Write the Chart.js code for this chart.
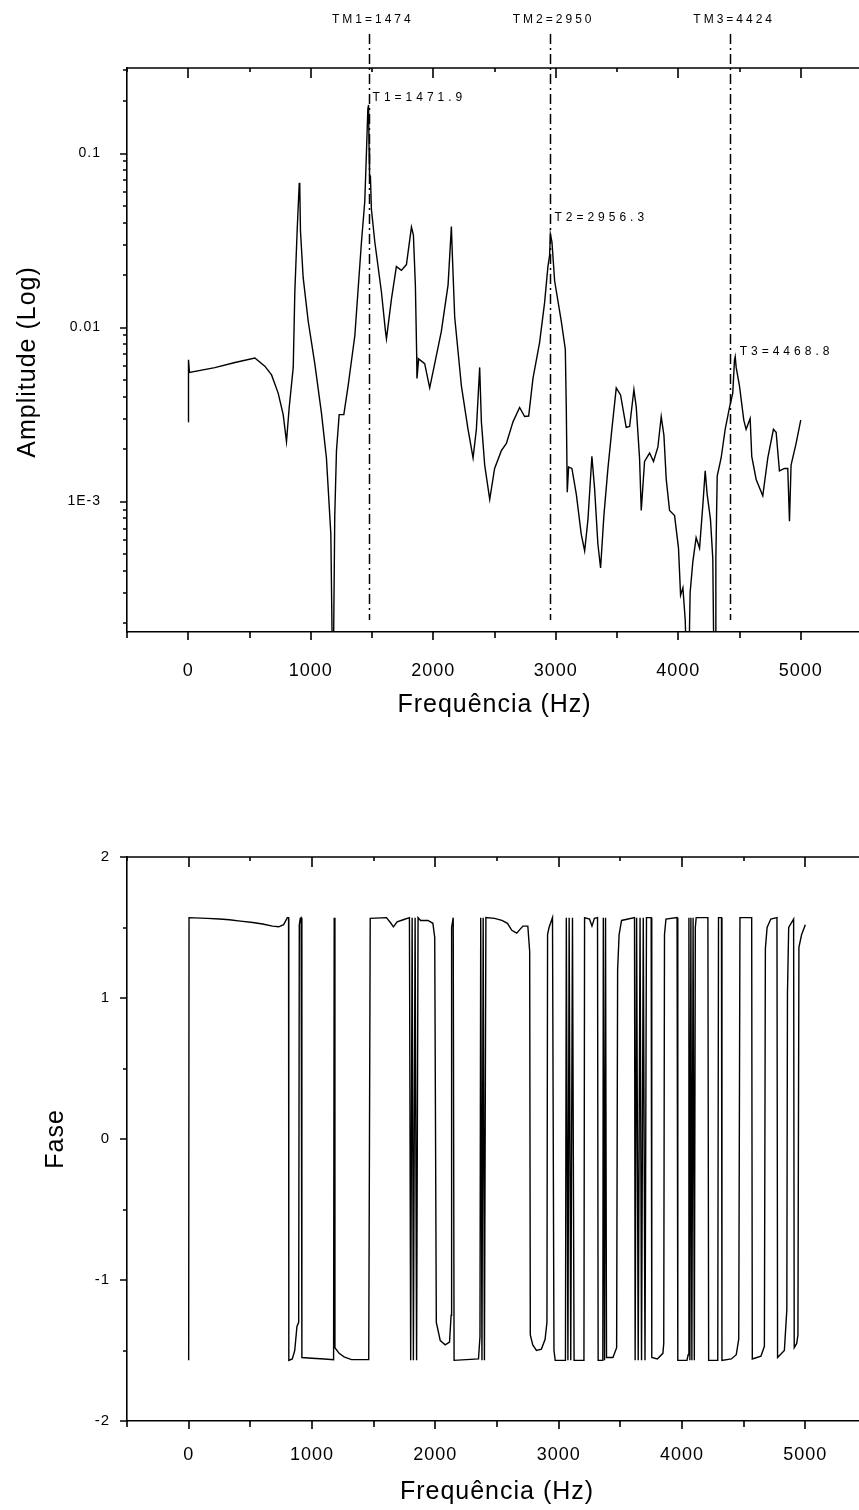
<!DOCTYPE html>
<html>
<head>
<meta charset="utf-8">
<script src="https://cdn.jsdelivr.net/npm/chart.js@4.4.1/dist/chart.umd.min.js"></script>
<style>
  html, body { margin: 0; padding: 0; background: #fff; overflow: hidden; width: 859px; height: 1510px; }
  #amp { position: absolute; left: 0; top: 0; }
  #fase { position: absolute; left: 0; top: 740px; }
</style>
</head>
<body>
<canvas id="amp" width="890" height="740"></canvas>
<canvas id="fase" width="890" height="770"></canvas>
<script>
// amplitude spectrum (Hz / amplitude)
var ampFreq = [0, 2, 10, 217, 381, 544, 625, 680, 734, 775, 802, 824, 857, 870, 889, 906, 910, 916, 938, 979,
  1033, 1088, 1128, 1164, 1178, 1184, 1196, 1210, 1232, 1270, 1305, 1360, 1414, 1441, 1455, 1466, 1472, 1476, 1480, 1487,
  1495, 1523, 1577, 1610, 1618, 1659, 1699, 1740, 1781, 1822, 1838, 1854, 1865, 1867, 1881, 1930, 1971, 2012, 2066, 2121,
  2148, 2156, 2175, 2230, 2284, 2325, 2352, 2379, 2393, 2420, 2461, 2501, 2556, 2597, 2651, 2705, 2746, 2779, 2814, 2868,
  2909, 2936, 2950, 2956, 2969, 2991, 3045, 3078, 3086, 3094, 3105, 3132, 3168, 3208, 3236, 3263, 3295, 3317, 3344, 3366,
  3393, 3426, 3458, 3494, 3529, 3575, 3603, 3638, 3657, 3684, 3698, 3725, 3766, 3798, 3834, 3861, 3883, 3902, 3929, 3970,
  4002, 4019, 4038, 4057, 4070, 4085, 4097, 4119, 4146, 4174, 4201, 4220, 4236, 4263, 4282, 4292, 4300, 4307, 4318, 4350,
  4383, 4418, 4445, 4459, 4465, 4473, 4500, 4535, 4554, 4587, 4600, 4636, 4690, 4731, 4777, 4799, 4826, 4867, 4894, 4908,
  4921, 4962, 5000];
var ampVal = [0.00287, 0.00653, 0.00552, 0.00588, 0.0063, 0.00668, 0.0060, 0.00534, 0.0042, 0.00316, 0.00221, 0.00347, 0.0059, 0.016, 0.036, 0.067, 0.068, 0.036, 0.0194, 0.0109,
  0.0062, 0.0032, 0.00178, 0.00065, 0.0001, 0.0001, 0.00083, 0.00196, 0.00316, 0.00316, 0.00462, 0.009, 0.031, 0.053, 0.103, 0.18, 0.19, 0.108, 0.075, 0.074,
  0.048, 0.031, 0.016, 0.0095, 0.0086, 0.0146, 0.0224, 0.0213, 0.023, 0.0378, 0.034, 0.0176, 0.0068, 0.0051, 0.0066, 0.0062, 0.0045, 0.0062, 0.0095, 0.0176,
  0.038, 0.026, 0.0115, 0.0046, 0.0026, 0.00178, 0.0026, 0.0059, 0.00287, 0.00162, 0.00103, 0.00155, 0.00196, 0.00216, 0.00287, 0.00347, 0.00308, 0.0031, 0.0051, 0.0082,
  0.0139, 0.0224, 0.026, 0.0344, 0.031, 0.0185, 0.0109, 0.0075, 0.00347, 0.00113, 0.00158, 0.00155, 0.0011, 0.00065, 0.00052, 0.00079, 0.00182, 0.00119, 0.00057, 0.000415,
  0.00083, 0.00155, 0.0026, 0.0045, 0.0041, 0.00267, 0.0027, 0.0044, 0.0035, 0.00178, 0.00089, 0.0017, 0.0019, 0.0017, 0.00206, 0.00308, 0.0024, 0.00134, 0.00089, 0.00083,
  0.00054, 0.00029, 0.00032, 0.000208, 0.0001, 0.0001, 0.0003, 0.00045, 0.00062, 0.00054, 0.00096, 0.0015, 0.0011, 0.00079, 0.00047, 0.0001, 0.0001, 0.00047, 0.0014, 0.00178,
  0.0026, 0.00347, 0.0042, 0.0065, 0.0068, 0.0059, 0.0046, 0.00294, 0.0026, 0.003, 0.00182, 0.00134, 0.00108, 0.00178, 0.0026, 0.0025, 0.0015, 0.00155, 0.00155, 0.00077,
  0.00162, 0.00216, 0.00294];

// phase (Hz / rad)
var phaseFreq = [0, 3, 150, 250, 330, 420, 520, 600, 680, 730, 770, 800, 810, 812, 840, 860, 878, 892, 897, 905,
  912, 918, 1000, 1100, 1175, 1180, 1186, 1220, 1260, 1320, 1460, 1472, 1604, 1640, 1660, 1690, 1740, 1790, 1800, 1812,
  1822, 1836, 1848, 1860, 1880, 1940, 1980, 1995, 2008, 2040, 2080, 2115, 2128, 2132, 2145, 2152, 2350, 2362, 2368, 2378,
  2388, 2398, 2410, 2480, 2540, 2585, 2620, 2660, 2690, 2710, 2750, 2765, 2770, 2790, 2820, 2860, 2890, 2905, 2910, 2922,
  2950, 2962, 2972, 3055, 3062, 3075, 3085, 3098, 3112, 3125, 3205, 3210, 3250, 3270, 3290, 3315, 3320, 3358, 3362, 3372,
  3380, 3388, 3440, 3470, 3478, 3490, 3510, 3615, 3620, 3632, 3645, 3660, 3672, 3686, 3700, 3712, 3750, 3755, 3800, 3845,
  3852, 3858, 3870, 3960, 3966, 4040, 4050, 4056, 4064, 4072, 4080, 4090, 4100, 4108, 4115, 4210, 4216, 4290, 4296, 4320,
  4324, 4400, 4440, 4460, 4470, 4565, 4570, 4640, 4668, 4676, 4690, 4720, 4770, 4775, 4830, 4850, 4855, 4865, 4905, 4910,
  4930, 4940, 4948, 4970, 5000];
var phaseVal = [-1.57, 1.57, 1.565, 1.56, 1.555, 1.545, 1.535, 1.525, 1.51, 1.505, 1.52, 1.57, 1.57, -1.57, -1.56, -1.5, -1.33, -1.3, 1.52, 1.565,
  1.57, -1.55, -1.555, -1.56, -1.565, 1.57, -1.48, -1.52, -1.545, -1.565, -1.565, 1.565, 1.57, 1.53, 1.505, 1.54, 1.555, 1.57, -1.57, 1.57,
  -1.57, 1.57, -1.57, 1.57, 1.55, 1.55, 1.53, 1.43, -1.3, -1.43, -1.46, -1.44, -1.25, 1.5, 1.57, -1.57, -1.56, -1.4, 1.57, -1.57,
  1.57, -1.57, 1.57, 1.565, 1.55, 1.53, 1.48, 1.46, 1.49, 1.51, 1.51, 1.33, -1.39, -1.46, -1.5, -1.49, -1.42, -1.3, 1.45, 1.5,
  1.57, -1.5, -1.57, -1.57, 1.57, -1.57, 1.57, -1.57, 1.57, -1.57, -1.57, 1.57, 1.56, 1.51, 1.565, 1.57, -1.57, -1.57, 1.57, -1.57,
  1.57, -1.55, -1.55, -1.48, 1.2, 1.45, 1.55, 1.57, -1.57, 1.57, -1.57, 1.57, -1.57, 1.57, -1.57, 1.57, 1.57, -1.55, -1.56, -1.52,
  -1.45, 1.45, 1.56, 1.57, -1.57, -1.57, -1.53, 1.57, -1.57, 1.57, -1.57, 1.57, -1.57, 1.5, 1.57, 1.57, -1.57, -1.57, 1.57, 1.57,
  -1.57, -1.56, -1.53, -1.42, 1.57, 1.57, -1.56, -1.54, -1.47, 1.35, 1.5, 1.56, 1.57, -1.55, -1.5, -1.21, 1.03, 1.5, 1.56, -1.48,
  -1.45, -1.39, 1.36, 1.45, 1.52];

// marked modes
var tmLabels = ["TM1=1474", "TM2=2950", "TM3=4424"];
var tmFreq = [1474, 2950, 4424];
var peakLabels = ["T1=1471.9", "T2=2956.3", "T3=4468.8"];
var peakFreq = [1471.9, 2956.3, 4468.8];
var peakLabelAmp = [0.21, 0.043, 0.0073];

// ticks
var freqTickLabels = [0, 1000, 2000, 3000, 4000, 5000];
var ampMajor = [0.1, 0.01, 0.001];
var ampTickLabels = ["0.1", "0.01", "1E-3"];
var faseTickLabels = [-2, -1, 0, 1, 2];

var FONT = "'Liberation Sans', Arial, sans-serif";

function pts(xs, ys) {
  return xs.map(function (x, i) { return { x: x, y: ys[i] }; });
}

function isDecade(v) {
  var l = Math.log10(v);
  return Math.abs(l - Math.round(l)) < 1e-6;
}

// draws the small tick marks (outside at bottom / left, mirrored inside at top)
var tickMarks = {
  id: 'tickMarks',
  afterDraw: function (chart) {
    var ctx = chart.ctx, a = chart.chartArea;
    var xs = chart.scales.x, ys = chart.scales.y;
    var logY = ys.type === 'logarithmic';
    ctx.save();
    ctx.strokeStyle = '#000';
    ctx.lineWidth = 1.6;
    ctx.beginPath();
    ctx.moveTo(a.left, a.top);
    ctx.lineTo(a.right + 2, a.top);
    xs.ticks.forEach(function (t) {
      var px = Math.round(xs.getPixelForValue(t.value));
      var major = t.value % 1000 === 0;
      ctx.moveTo(px, a.bottom);
      ctx.lineTo(px, a.bottom + (major ? 8 : 6));
      ctx.moveTo(px, a.top);
      ctx.lineTo(px, a.top + (major ? 10 : 4));
    });
    ys.ticks.forEach(function (t) {
      var py = Math.round(ys.getPixelForValue(t.value));
      var major = logY ? isDecade(t.value) : Number.isInteger(t.value);
      ctx.moveTo(a.left, py);
      ctx.lineTo(a.left - (major ? 7 : 4), py);
    });
    ctx.stroke();
    ctx.restore();
  }
};

// dash-dot mode lines and their labels
var markers = {
  id: 'markers',
  afterDatasetsDraw: function (chart) {
    var ctx = chart.ctx, a = chart.chartArea;
    var xs = chart.scales.x, ys = chart.scales.y;
    ctx.save();
    ctx.strokeStyle = '#000';
    ctx.lineWidth = 1.5;
    ctx.setLineDash([10, 4, 2, 4]);
    tmFreq.forEach(function (f) {
      var px = Math.round(xs.getPixelForValue(f)) + 0.5;
      ctx.beginPath();
      ctx.moveTo(px, 34);
      ctx.lineTo(px, a.bottom - 12);
      ctx.stroke();
    });
    ctx.setLineDash([]);
    ctx.fillStyle = '#000';
    ctx.font = '12px ' + FONT;
    ctx.letterSpacing = '3px';
    ctx.textBaseline = 'middle';
    ctx.textAlign = 'center';
    tmFreq.forEach(function (f, i) {
      ctx.fillText(tmLabels[i], xs.getPixelForValue(f) + 4, 20);
    });
    ctx.letterSpacing = '4px';
    ctx.textAlign = 'left';
    peakFreq.forEach(function (f, i) {
      ctx.fillText(peakLabels[i], xs.getPixelForValue(f) + 4, ys.getPixelForValue(peakLabelAmp[i]));
    });
    ctx.restore();
  }
};

// slightly spaced axis text, like the original
var spacing = {
  id: 'spacing',
  beforeDraw: function (chart) { chart.ctx.letterSpacing = '1px'; },
  beforeDatasetsDraw: function (chart) { chart.ctx.letterSpacing = '0px'; }
};

function freqAxis(height, labelPad, titleBottom) {
  return {
    type: 'linear',
    min: -500,
    max: 5500,
    ticks: {
      stepSize: 500,
      autoSkip: false,
      maxRotation: 0,
      padding: labelPad,
      color: '#000',
      font: { family: FONT, size: 18 },
      callback: function (v) { return freqTickLabels.indexOf(v) >= 0 ? String(v) : ''; }
    },
    grid: { display: false, drawTicks: false },
    border: { display: true, color: '#000', width: 1.6 },
    title: {
      display: true,
      text: 'Frequência (Hz)',
      color: '#000',
      font: { family: FONT, size: 25 },
      padding: { top: 0, bottom: titleBottom }
    },
    afterFit: function (s) { s.height = height; }
  };
}

var ampChart = new Chart(document.getElementById('amp'), {
  type: 'line',
  data: {
    datasets: [{
      data: pts(ampFreq, ampVal),
      borderColor: '#000',
      borderWidth: 1.4,
      pointRadius: 0,
      fill: false,
      tension: 0
    }]
  },
  options: {
    responsive: false,
    animation: false,
    layout: { padding: { left: 0, top: 68, right: 16, bottom: 0 } },
    plugins: { legend: { display: false }, tooltip: { enabled: false } },
    scales: {
      x: freqAxis(108, 28, 20),
      y: {
        type: 'logarithmic',
        min: 1.78e-4,
        max: 0.31,
        afterBuildTicks: function (scale) {
          var t = [];
          for (var e = -4; e <= 0; e++) {
            for (var m = 1; m < 10; m++) {
              var v = m * Math.pow(10, e);
              if (v >= scale.min && v <= scale.max) t.push({ value: v });
            }
          }
          scale.ticks = t;
        },
        ticks: {
          autoSkip: false,
          padding: 26,
          color: '#000',
          font: { family: FONT, size: 14 },
          callback: function (v) {
            for (var i = 0; i < ampMajor.length; i++) {
              if (Math.abs(ampMajor[i] - v) / ampMajor[i] < 1e-6) return ampTickLabels[i];
            }
            return '';
          }
        },
        grid: { display: false, drawTicks: false },
        border: { display: true, color: '#000', width: 1.6 },
        title: {
          display: true,
          text: 'Amplitude (Log)   ',
          color: '#000',
          font: { family: FONT, size: 25 },
          padding: { top: 13, bottom: 0 }
        },
        afterFit: function (s) { s.width = 127; }
      }
    }
  },
  plugins: [spacing, tickMarks, markers]
});

var faseChart = new Chart(document.getElementById('fase'), {
  type: 'line',
  data: {
    datasets: [{
      data: pts(phaseFreq, phaseVal),
      borderColor: '#000',
      borderWidth: 1.4,
      pointRadius: 0,
      fill: false,
      tension: 0
    }]
  },
  options: {
    responsive: false,
    animation: false,
    layout: { padding: { left: 0, top: 117, right: 16, bottom: 0 } },
    plugins: { legend: { display: false }, tooltip: { enabled: false } },
    scales: {
      x: freqAxis(89, 23, 3),
      y: {
        type: 'linear',
        min: -2,
        max: 2,
        ticks: {
          stepSize: 0.5,
          autoSkip: false,
          padding: 17,
          color: '#000',
          font: { family: FONT, size: 15 },
          callback: function (v) { return faseTickLabels.indexOf(v) >= 0 ? String(v) : ''; }
        },
        grid: { display: false, drawTicks: false },
        border: { display: true, color: '#000', width: 1.6 },
        title: {
          display: true,
          text: 'Fase',
          color: '#000',
          font: { family: FONT, size: 25 },
          padding: { top: 41, bottom: 0 }
        },
        afterFit: function (s) { s.width = 127; }
      }
    }
  },
  plugins: [spacing, tickMarks]
});
</script>
</body>
</html>
